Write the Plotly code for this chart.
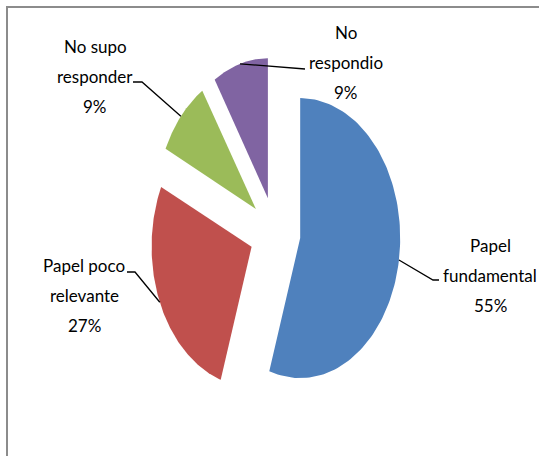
import numpy as np
import plotly.graph_objects as go

# Survey answers and their shares (%)
categories = ["Papel fundamental", "Papel poco relevante", "No supo responder", "No respondio"]
label_lines = [["Papel", "fundamental"], ["Papel poco", "relevante"], ["No supo", "responder"], ["No", "respondio"]]
values = [55, 27, 9, 9]
colors = ["#4F81BD", "#C0504D", "#9BBB59", "#8064A2"]

# Pie geometry in page pixels (the pie is drawn as an ellipse)
W, H = 539, 456
CX, CY = 275, 232.5
RX, RY = 100, 140
EXPLODE = 0.255

# Where each label block sits (centre x, first line y) and its leader elbow/end
label_pos = [(490, 245), (84, 265), (95, 46), (346, 32)]
leader_elbow = [((433, 280), (439, 280)), ((135, 272), (127, 272)),
                ((142, 82), (133, 82)), ((300, 69), (305, 69))]
LINE_GAP = 30

FONT = dict(family="Lato, sans-serif", size=17, color="black")


def ell_point(cx, cy, theta_deg, scale=1.0):
    t = np.radians(theta_deg)
    return cx + scale * RX * np.sin(t), cy - scale * RY * np.cos(t)


fig = go.Figure()
total = float(sum(values))
start = 0.0
annotations = []
for i, (name, v, c) in enumerate(zip(categories, values, colors)):
    span = 360.0 * v / total
    mid = start + span / 2
    vx, vy = ell_point(CX, CY, mid, EXPLODE)
    th = np.linspace(start, start + span, 120)
    ax, ay = ell_point(vx, vy, th)
    xs = np.concatenate([[vx], ax, [vx]])
    ys = np.concatenate([[vy], ay, [vy]])
    fig.add_trace(go.Scatter(x=xs, y=ys, mode="lines", fill="toself", fillcolor=c,
                             line=dict(width=0, color=c), name=name, hoverinfo="name",
                             showlegend=False))

    # leader line from the slice edge at its mid angle
    px, py = ell_point(vx, vy, mid)
    (ex, ey), (fx, fy) = leader_elbow[i]
    fig.add_trace(go.Scatter(x=[px, ex, fx], y=[py, ey, fy], mode="lines",
                             line=dict(color="black", width=1.3), hoverinfo="skip",
                             showlegend=False))

    lines = label_lines[i] + [f"{v:g}%"]
    lx, ly = label_pos[i]
    for k, t in enumerate(lines):
        annotations.append(dict(x=lx, y=ly + k * LINE_GAP, xref="x", yref="y", text=t,
                                showarrow=False, font=FONT, xanchor="center", yanchor="middle"))
    start += span

fig.update_layout(
    width=W, height=H,
    margin=dict(l=0, r=0, t=0, b=0),
    paper_bgcolor="white", plot_bgcolor="white",
    xaxis=dict(range=[0, W], visible=False, fixedrange=True),
    yaxis=dict(range=[H, 0], visible=False, fixedrange=True),
    annotations=annotations,
    shapes=[dict(type="rect", xref="paper", yref="paper",
                 x0=7 / W, x1=1.05, y0=-0.05, y1=1 - 7 / H,
                 line=dict(color="#8c8c8c", width=2), layer="below")],
)

fig.write_html("out.html")
